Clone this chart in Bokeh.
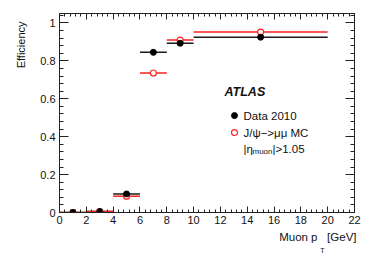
from bokeh.plotting import figure
from bokeh.models import (Range1d, LinearAxis, FixedTicker, CustomJSTickFormatter, Label, Title)
from bokeh.embed import file_html
from bokeh.resources import INLINE

# ---- data ----
bin_lo = [0, 2, 4, 6, 8, 10]
bin_hi = [2, 4, 6, 8, 10, 20]
pt_center = [1, 3, 5, 7, 9, 15]
data_eff = [0.0, 0.005, 0.098, 0.845, 0.893, 0.925]
data_err = [0.002, 0.003, 0.006, 0.006, 0.005, 0.004]
mc_eff = [0.0, 0.005, 0.086, 0.736, 0.910, 0.952]
mc_err = [0.002, 0.003, 0.006, 0.012, 0.012, 0.008]

x_ticks = [0, 2, 4, 6, 8, 10, 12, 14, 16, 18, 20, 22]
y_ticks = [0, 0.2, 0.4, 0.6, 0.8, 1.0]

FONT = "Liberation Sans"
RED = "#ff2020"
DARK = "#1a1a1a"

W, H = 366, 253
FL, FR, FT, FB = 59, 354, 13, 212   # frame edges in canvas px

p = figure(width=W, height=H, output_backend="svg", toolbar_location=None,
           x_range=Range1d(0, 22), y_range=Range1d(0, 1.05),
           min_border_left=FL, min_border_right=W - FR, min_border_top=FT,
           min_border_bottom=H - FB,
           x_axis_location=None, y_axis_location=None)
p.grid.visible = False
p.outline_line_color = "#222222"
p.background_fill_color = "white"
p.border_fill_color = "white"

x_minor = [round(i * 0.4, 2) for i in range(0, 56)]
y_minor = [round(i * 0.04, 2) for i in range(0, 27)]
fmt = CustomJSTickFormatter(code="return String(Math.round(tick*100)/100);")
nofmt = CustomJSTickFormatter(code="return '';")

def style(ax, major_len, minor_len):
    ax.axis_line_color = "#222222"
    ax.major_tick_line_color = "#222222"
    ax.minor_tick_line_color = "#222222"
    ax.major_tick_in = major_len
    ax.major_tick_out = 0
    ax.minor_tick_in = minor_len
    ax.minor_tick_out = 0
    ax.major_label_text_font = FONT
    ax.major_label_text_font_size = "11px"
    ax.major_label_text_color = "#111111"

xb = LinearAxis(ticker=FixedTicker(ticks=x_ticks, minor_ticks=x_minor), formatter=fmt)
style(xb, 6, 3)
xb.major_label_standoff = 3
p.add_layout(xb, "below")
xt = LinearAxis(ticker=FixedTicker(ticks=x_ticks, minor_ticks=x_minor), formatter=nofmt)
style(xt, 6, 3)
xt.major_label_standoff = 0
p.add_layout(xt, "above")
yl = LinearAxis(ticker=FixedTicker(ticks=y_ticks, minor_ticks=y_minor), formatter=fmt)
style(yl, 9, 4)
yl.major_label_standoff = 4
p.add_layout(yl, "left")
yr = LinearAxis(ticker=FixedTicker(ticks=y_ticks, minor_ticks=y_minor), formatter=nofmt)
style(yr, 9, 4)
yr.major_label_standoff = 0
p.add_layout(yr, "right")

# ---- axis titles (side-panel titles) ----
ty = Title(text="Efficiency", align="right", offset=8, standoff=22,
           text_font=FONT, text_font_size="11px", text_font_style="normal",
           text_color="#111111")
p.add_layout(ty, "left")
tx = Title(text="Muon p\u00a0\u00a0\u00a0[GeV]", align="right", offset=-2, standoff=4,
           text_font=FONT, text_font_size="11.5px", text_font_style="normal",
           text_color="#111111", text_line_height=0.6)
p.add_layout(tx, "below")
tsub = Title(text="T", align="right", offset=30, standoff=0,
             text_font=FONT, text_font_size="7px", text_font_style="normal",
             text_color="#111111")
p.add_layout(tsub, "below")

# ---- error bars ----
data_lo = [v - e for v, e in zip(data_eff, data_err)]
data_hi = [v + e for v, e in zip(data_eff, data_err)]
mc_lo = [v - e for v, e in zip(mc_eff, mc_err)]
mc_hi = [v + e for v, e in zip(mc_eff, mc_err)]

p.segment(bin_lo, data_eff, bin_hi, data_eff, line_color=DARK, line_width=1.5)
p.segment(pt_center, data_lo, pt_center, data_hi, line_color=DARK, line_width=1.5)
p.segment(bin_lo, mc_eff, bin_hi, mc_eff, line_color=RED, line_width=1.5)
p.segment(pt_center, mc_lo, pt_center, mc_hi, line_color=RED, line_width=1.5)
p.scatter(pt_center, mc_eff, marker="circle", size=6, line_color=RED, line_width=1.2,
          fill_color="white")
p.scatter(pt_center, data_eff, marker="circle", size=6, line_color="black",
          fill_color="black")

# ---- legend (manual, ROOT style) ----
def px2x(px):
    return (px - FL) / (FR - FL) * 22

def py2y(py):
    return (FB - py) / (FB - 22.3)

p.scatter([px2x(234)], [py2y(115)], marker="circle", size=6, line_color="black",
          fill_color="black")
p.scatter([px2x(234)], [py2y(132)], marker="circle", size=6, line_color=RED,
          line_width=1.2, fill_color="white")

def lab(x, y, text, size="11.5px", style="normal", **kw):
    l = Label(x=x, y=y, text=text, text_font=FONT, text_font_size=size,
              text_font_style=style, text_baseline="middle", text_color="#111111", **kw)
    p.add_layout(l)
    return l

lab(px2x(224), py2y(91), "ATLAS", size="12.5px", style="bold italic")
lab(px2x(243), py2y(115), "Data 2010")
lab(px2x(243), py2y(132), "J/\u03c8\u2212>\u03bc\u03bc MC")
lab(px2x(243), py2y(148), "|\u03b7")
lab(px2x(252), py2y(151), "muon", size="8px")
lab(px2x(272), py2y(148), "|>1.05")

open("out.html", "w").write(file_html(p, INLINE))
